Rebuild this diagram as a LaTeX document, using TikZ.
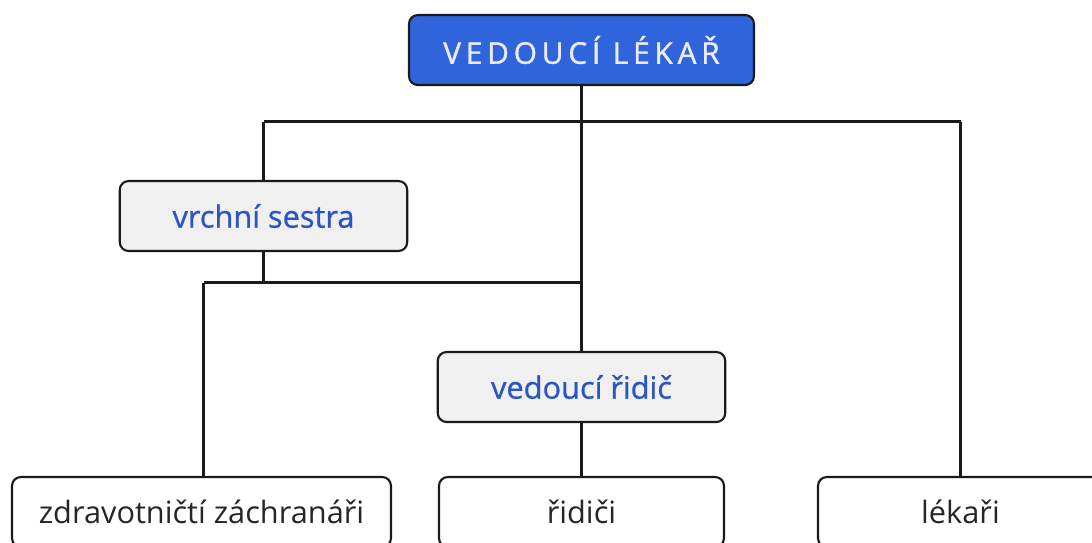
\documentclass[tikz,border=0pt]{standalone}
\usepackage{fontspec}
\setmainfont{Open Sans}
\newfontfamily\titlefont[LetterSpace=16,FakeBold=1.2]{Open Sans}
\newfontfamily\leadfont[FakeBold=0.8]{Open Sans}
\usepackage{xcolor}
\usepackage{tikz}
\definecolor{headblue}{HTML}{2F64DA}
\definecolor{textblue}{HTML}{2A55C2}
\definecolor{boxgray}{HTML}{F0F0F0}
\definecolor{linedark}{HTML}{1A1A1A}

\begin{document}
\begin{tikzpicture}[
    x=0.02cm,
    y=-0.02cm,
    link/.style={
        draw=linedark,
        line width=1.5pt
    },
    head/.style={
        rectangle,
        rounded corners=5pt,
        draw=linedark,
        line width=1.2pt,
        fill=headblue,
        text=white!92!blue,
        font=\titlefont\fontsize{17}{19}\selectfont,
        minimum height=1.40cm,
        minimum width=6.90cm,
        inner sep=0pt
    },
    lead/.style={
        rectangle,
        rounded corners=5pt,
        draw=linedark,
        line width=1.2pt,
        fill=boxgray,
        text=textblue,
        font=\leadfont\fontsize{17.5}{19}\selectfont,
        minimum height=1.40cm,
        minimum width=5.75cm,
        inner sep=0pt
    },
    staff/.style={
        rectangle,
        rounded corners=5pt,
        draw=linedark,
        line width=1.2pt,
        fill=white,
        text=black!85,
        font=\fontsize{17.5}{19}\selectfont,
        minimum height=1.40cm,
        inner sep=0pt
    }
]

\clip (0,0) rectangle (1092,542);

\node[head] (boss) at (581.5,50)
{VEDOUCÍ LÉKAŘ};

\node[lead] (nurse) at (263.5,216)
{vrchní sestra};

\node[lead] (chief) at (581.5,387)
{vedoucí řidič};

\node[staff, minimum width=7.58cm] (medics) at (201.5,512)
{zdravotničtí záchranáři};

\node[staff, minimum width=5.70cm] (drivers) at (581.5,512)
{řidiči};

\node[staff, minimum width=5.70cm] (doctors) at (960.5,512)
{lékaři};

% junctions
\coordinate (topLeft) at (263.5,121.5);
\coordinate (topMid) at (581.5,121.5);
\coordinate (topRight) at (960.5,121.5);
\coordinate (lowLeft) at (203.5,282.5);
\coordinate (lowNurse) at (263.5,282.5);
\coordinate (lowMid) at (581.5,282.5);

\draw[link]
(boss.south) -- (topMid) -- (lowMid) -- (chief.north);

\draw[link]
(topLeft) -- (topRight);

\draw[link]
(topLeft) -- (nurse.north);

\draw[link]
(topRight) -- (doctors.north);

\draw[link]
(nurse.south) -- (lowNurse);

\draw[link]
(lowLeft) -- (lowMid);

\draw[link]
(lowLeft) -- (lowLeft |- medics.north);

\draw[link]
(chief.south) -- (drivers.north);

\end{tikzpicture}
\end{document}
